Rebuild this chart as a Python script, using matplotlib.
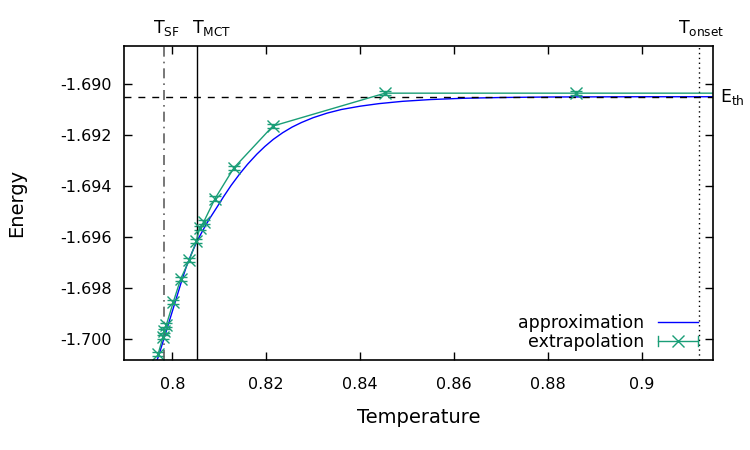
import matplotlib
matplotlib.use("Agg")
import matplotlib.pyplot as plt
from matplotlib.legend_handler import HandlerBase
from matplotlib.lines import Line2D


# extrapolated energies
extrap_T = [0.7970, 0.7980, 0.7982, 0.7987, 0.8002, 0.8018, 0.8036, 0.8051,
            0.8058, 0.8067, 0.8091, 0.8131, 0.8214, 0.8453, 0.8859, 0.9300]
extrap_E = [-1.70056, -1.69990, -1.69968, -1.69945, -1.69854, -1.69762, -1.69690, -1.69615,
            -1.69565, -1.69539, -1.69448, -1.69328, -1.69164, -1.69035, -1.69035, -1.69035]
extrap_err = 0.00008

# approximation curve
approx_T = [0.7960, 0.7970, 0.7985, 0.8000, 0.8010, 0.8020, 0.8030, 0.8041, 0.8050,
            0.8059, 0.8070, 0.8080, 0.8095, 0.8109, 0.8125, 0.8144, 0.8160, 0.8180,
            0.8197, 0.8215, 0.8235, 0.8255, 0.8275, 0.8300, 0.8330, 0.8360, 0.8400,
            0.8440, 0.8490, 0.8550, 0.8620, 0.8700, 0.8800, 0.9000, 0.9200]
approx_E = [-1.70115, -1.70069, -1.69980, -1.69890, -1.69830, -1.69770, -1.69714, -1.69663, -1.69626,
            -1.69593, -1.69556, -1.69525, -1.69482, -1.69441, -1.69397, -1.69350, -1.69314, -1.69274,
            -1.69244, -1.69216, -1.69190, -1.69168, -1.69150, -1.69131, -1.69113, -1.69099, -1.69086,
            -1.69076, -1.69067, -1.69060, -1.69055, -1.69052, -1.69050, -1.69049, -1.69049]

T_SF = 0.7982
T_MCT = 0.8052
T_onset = 0.9122
E_th = -1.69049

green = "#1a9e77"
blue = "#0000ff"


class ErrorbarLegend(HandlerBase):
    # horizontal errorbar sample like gnuplot draws in its key
    def create_artists(self, legend, orig_handle, xdescent, ydescent,
                       width, height, fontsize, trans):
        x0, x1 = -xdescent, -xdescent + width
        y = (height - ydescent) / 2.0
        c = orig_handle.get_color()
        h = 3.5
        arts = [
            Line2D([x0, x1], [y, y], color=c, lw=1),
            Line2D([x0, x0], [y - h, y + h], color=c, lw=1),
            Line2D([x1, x1], [y - h, y + h], color=c, lw=1),
            Line2D([(x0 + x1) / 2], [y], color=c, marker="x", ms=8, mew=1, ls="none"),
        ]
        for a in arts:
            a.set_transform(trans)
        return arts


plt.rcParams["font.family"] = "DejaVu Sans"

fig = plt.figure(figsize=(7.5, 4.5), dpi=100)
ax = fig.add_axes([0.1653, 0.2, 0.7858, 0.6984])

ax.plot(approx_T, approx_E, color=blue, lw=1)
ax.errorbar(extrap_T, extrap_E, yerr=extrap_err, color=green, lw=1,
            marker="x", ms=8, mew=1, capsize=4, elinewidth=1)

ax.axvline(T_SF, color="#606060", lw=1.2, ls=(0, (6, 3, 1, 3)))
ax.axvline(T_MCT, color="black", lw=1)
ax.axvline(T_onset, color="black", lw=1, ls=(0, (1, 2.5)))
ax.axhline(E_th, color="black", lw=1, ls=(0, (5, 5)))

ax.set_xlim(0.7897, 0.9152)
ax.set_ylim(-1.70081, -1.68849)
ax.set_xticks([0.8, 0.82, 0.84, 0.86, 0.88, 0.9])
ax.set_xticklabels(["0.8", "0.82", "0.84", "0.86", "0.88", "0.9"])
ax.set_yticks([-1.690, -1.692, -1.694, -1.696, -1.698, -1.700])
ax.set_yticklabels(["-1.690", "-1.692", "-1.694", "-1.696", "-1.698", "-1.700"])
ax.tick_params(direction="in", top=True, right=True, length=6, width=1,
               labelsize=11.5)
ax.tick_params(axis="x", pad=12)
ax.tick_params(axis="y", pad=9)
for s in ax.spines.values():
    s.set_linewidth(1.2)

ax.set_xlabel("Temperature", fontsize=14, labelpad=12)
ax.set_ylabel("Energy", fontsize=14, labelpad=24)

tr = ax.get_xaxis_transform()
ax.text(T_SF + 0.0005, 1.025, r"$\mathregular{T_{SF}}$", transform=tr, ha="center", va="bottom", fontsize=12.5)
ax.text(T_MCT - 0.001, 1.025, r"$\mathregular{T_{MCT}}$", transform=tr, ha="left", va="bottom", fontsize=12.5)
ax.text(T_onset + 0.0005, 1.025, r"$\mathregular{T_{onset}}$", transform=tr, ha="center", va="bottom", fontsize=12.5)
ax.text(1.012, E_th, r"$\mathregular{E_{th}}$", transform=ax.get_yaxis_transform(),
        ha="left", va="center", fontsize=12.5)

h_approx = Line2D([], [], color=blue, lw=1)
h_extrap = Line2D([], [], color=green, lw=1)
ax.legend([h_approx, h_extrap], ["approximation", "extrapolation"],
          handler_map={h_extrap: ErrorbarLegend()},
          loc="lower right", bbox_to_anchor=(0.995, -0.01), frameon=False,
          markerfirst=False, fontsize=12.5, handlelength=2.3, labelspacing=0.05,
          borderaxespad=0.3, handletextpad=0.8)

fig.savefig("out.png", dpi=100)
